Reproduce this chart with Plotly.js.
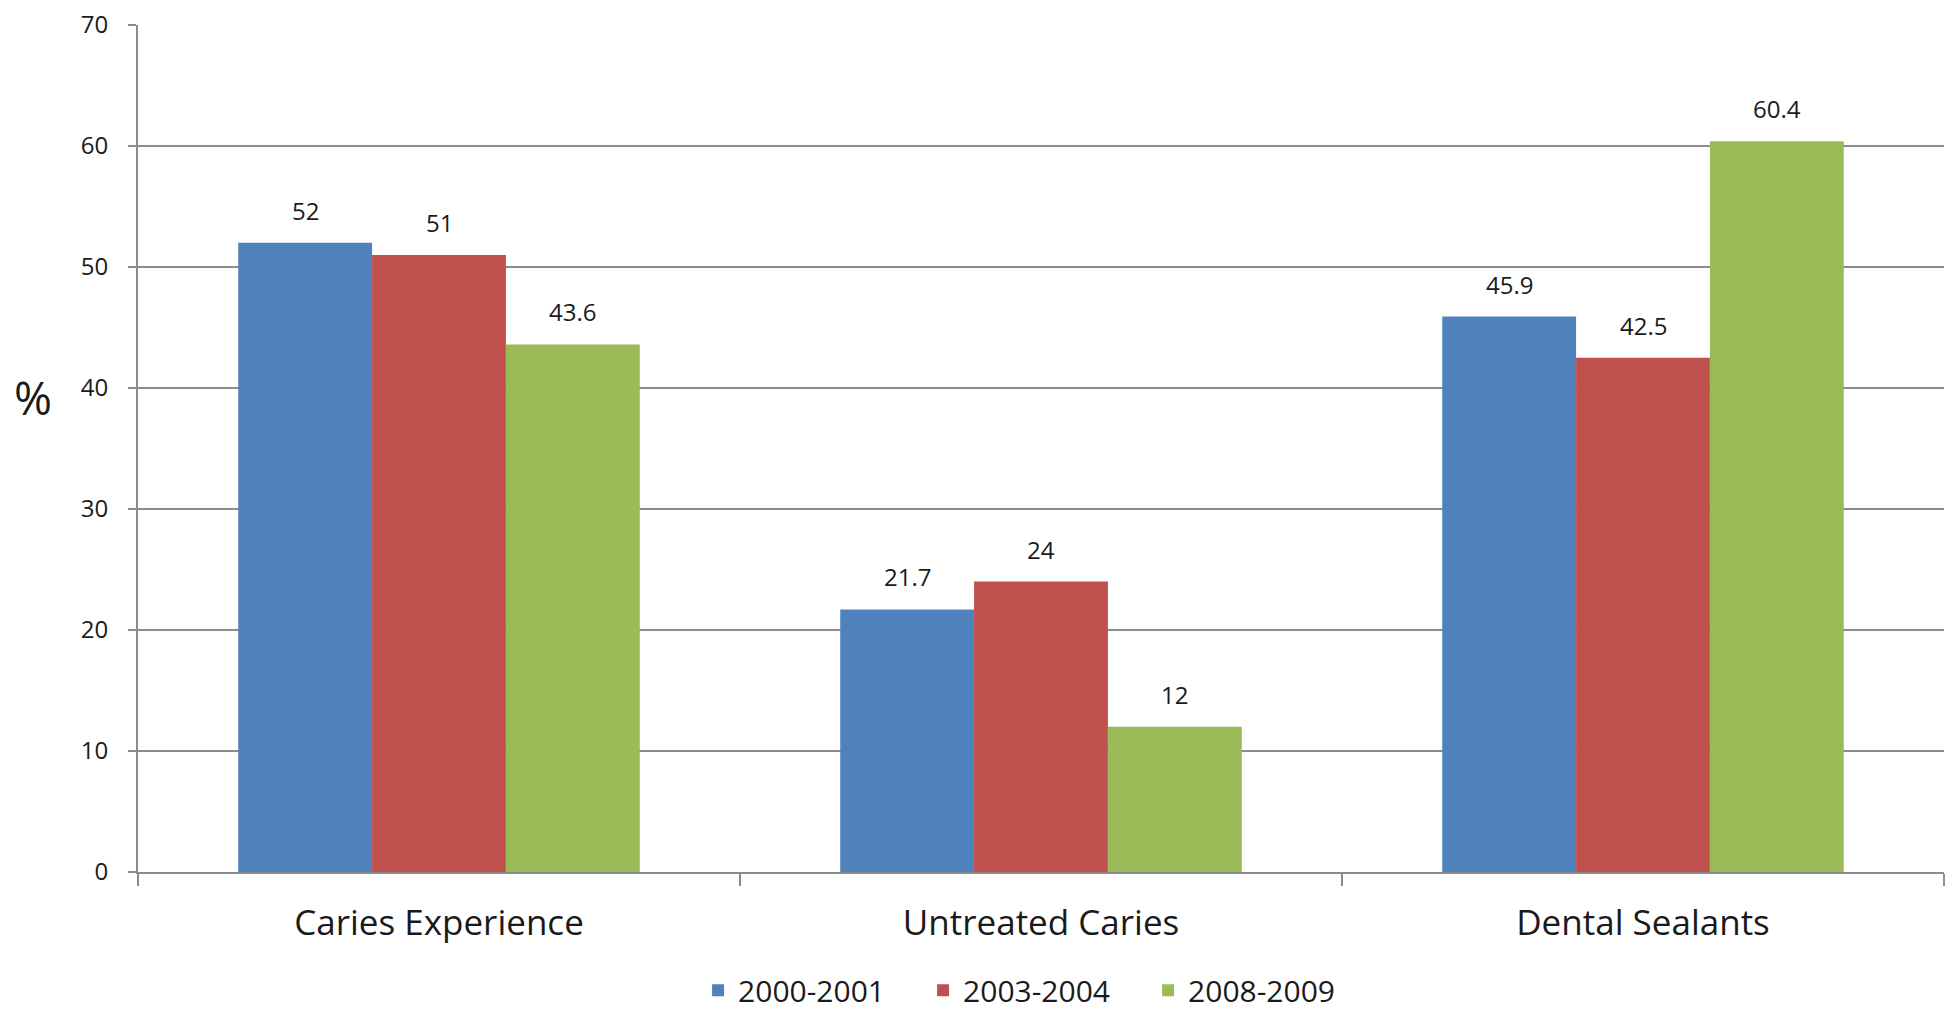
<!DOCTYPE html>
<html>
<head>
<meta charset="utf-8">
<script src="https://cdn.plot.ly/plotly-3.0.1.min.js"></script>
<style>
  html, body { margin: 0; padding: 0; background: #ffffff; }
  #chart { width: 1950px; height: 1012px; }
</style>
</head>
<body>
<div id="chart"></div>
<script>
const categories = ['Caries Experience', 'Untreated Caries', 'Dental Sealants'];
const seriesNames = ['2000-2001', '2003-2004', '2008-2009'];
const values2000 = [52, 21.7, 45.9];
const values2003 = [51, 24, 42.5];
const values2008 = [43.6, 12, 60.4];
const seriesColors = ['#4F81BD', '#C0504D', '#9BBB59'];
const yTicks = [0, 10, 20, 30, 40, 50, 60, 70];

const allValues = [values2000, values2003, values2008];
const FONT = '"Open Sans", "Noto Sans", sans-serif';
const BARGAP = 0.333;

const traces = allValues.map((vals, i) => ({
  type: 'bar',
  name: seriesNames[i],
  x: categories,
  y: vals,
  marker: { color: seriesColors[i], line: { width: 0 } },
  hoverinfo: 'skip'
}));

// value labels placed on the library's axes from the data
const nSeries = allValues.length;
const barW = (1 - BARGAP) / nSeries;
const annotations = [];
allValues.forEach((vals, i) => {
  vals.forEach((v, j) => {
    annotations.push({
      xref: 'x', yref: 'y',
      x: j + (i - (nSeries - 1) / 2) * barW,
      y: v,
      text: String(v),
      showarrow: false,
      xanchor: 'center',
      yanchor: 'bottom',
      yshift: 14,
      font: { family: FONT, size: 24, color: '#1a1a1a' }
    });
  });
});

annotations.push({
  xref: 'paper', yref: 'paper',
  x: -0.0581, y: 0.5608,
  xanchor: 'center', yanchor: 'middle',
  text: '%',
  showarrow: false,
  font: { family: FONT, size: 46, color: '#1a1a1a' }
});

const layout = {
  width: 1950,
  height: 1012,
  margin: { l: 138, r: 6, t: 25, b: 140, pad: 0, autoexpand: false },
  paper_bgcolor: '#ffffff',
  plot_bgcolor: '#ffffff',
  barmode: 'group',
  bargap: BARGAP,
  bargroupgap: 0,
  showlegend: true,
  legend: {
    orientation: 'h',
    x: 0.497, xanchor: 'center',
    y: -0.1395, yanchor: 'middle',
    font: { family: FONT, size: 30, color: '#1a1a1a' },
    entrywidth: 180,
    entrywidthmode: 'pixels',
    bgcolor: 'rgba(0,0,0,0)'
  },
  xaxis: {
    type: 'category',
    showgrid: false,
    showline: true,
    linecolor: '#8c8c8c',
    linewidth: 2,
    ticks: 'outside',
    tickson: 'boundaries',
    ticklen: 12,
    tickwidth: 2,
    tickcolor: '#8c8c8c',
    ticklabelstandoff: 19,
    tickfont: { family: FONT, size: 35, color: '#1a1a1a' },
    zeroline: false,
    automargin: false,
    fixedrange: true
  },
  yaxis: {
    range: [0, 70],
    tickvals: yTicks,
    ticktext: yTicks.map(String),
    showgrid: true,
    gridcolor: '#8c8c8c',
    gridwidth: 2,
    showline: true,
    linecolor: '#8c8c8c',
    linewidth: 2,
    ticks: 'outside',
    ticklen: 8,
    tickwidth: 2,
    tickcolor: '#8c8c8c',
    ticklabelstandoff: 15,
    tickfont: { family: FONT, size: 24, color: '#1a1a1a' },
    zeroline: false,
    automargin: false,
    fixedrange: true
  },
  annotations: annotations,
  hovermode: false
};

Plotly.newPlot('chart', traces, layout, { displayModeBar: false, staticPlot: true });
</script>
</body>
</html>
